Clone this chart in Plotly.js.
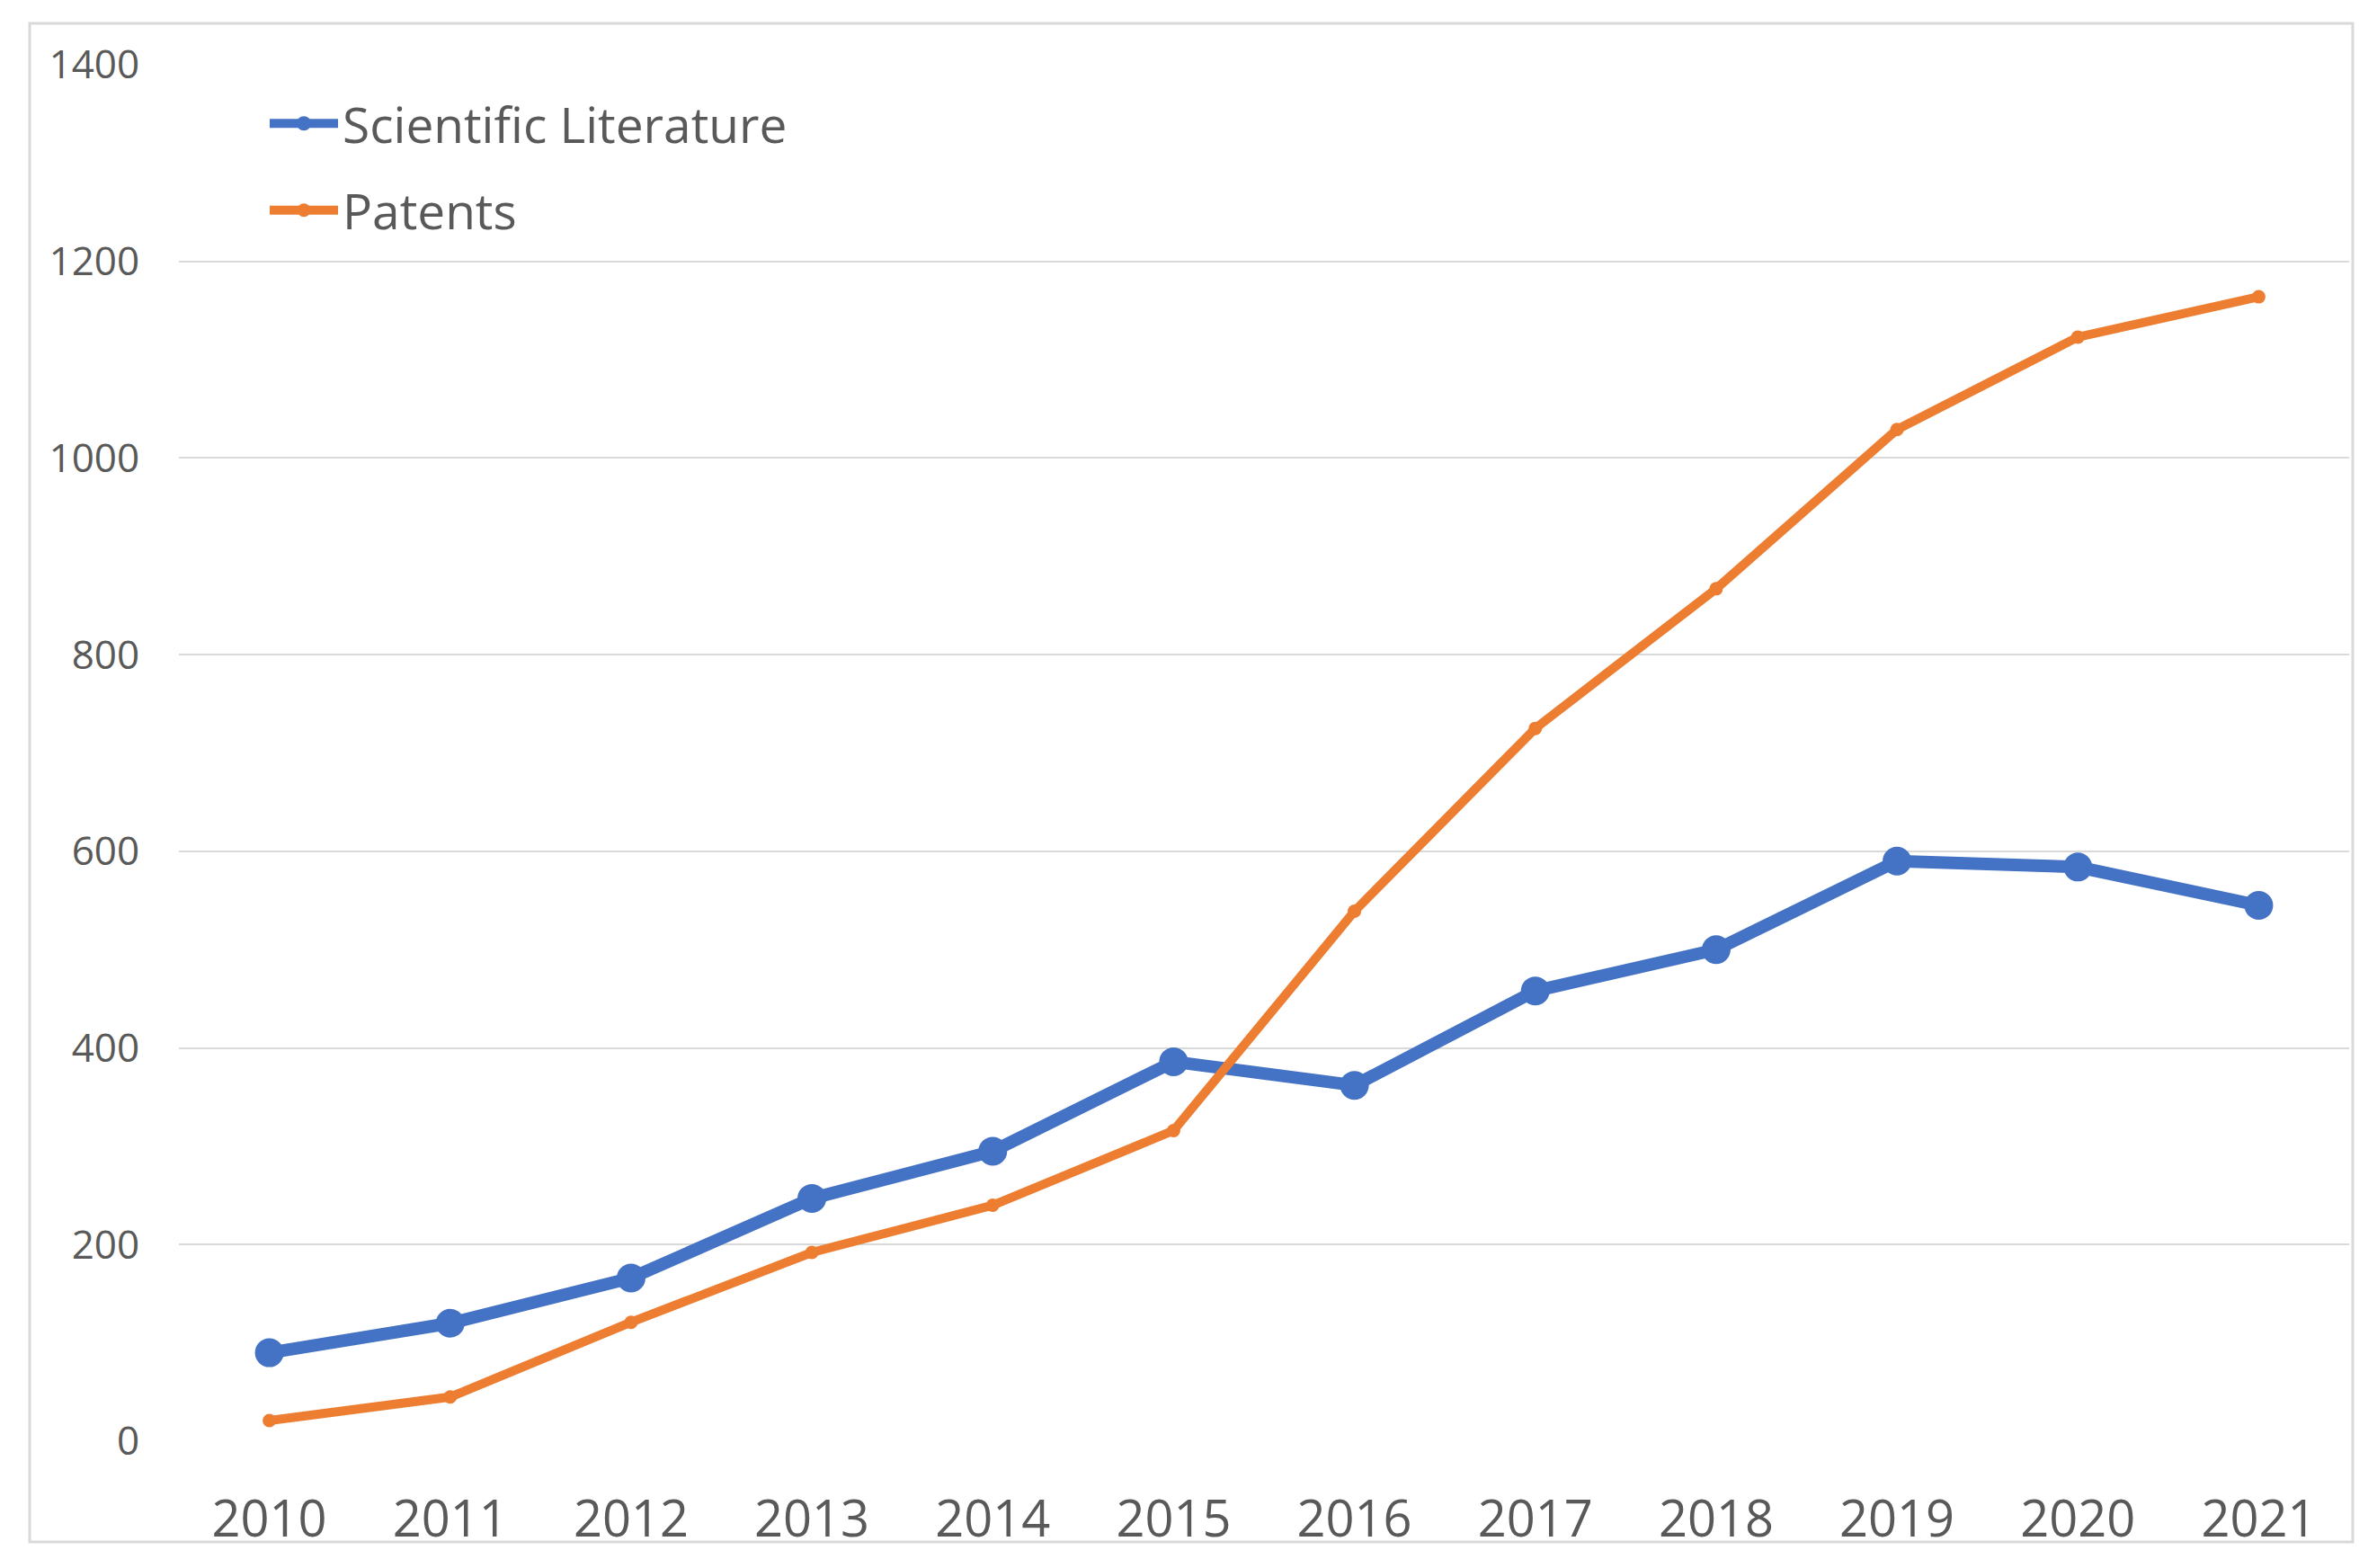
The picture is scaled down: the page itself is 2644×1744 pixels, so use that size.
<!DOCTYPE html>
<html>
<head>
<meta charset="utf-8">
<script src="https://cdn.plot.ly/plotly-3.0.1.min.js"></script>
<style>
  html, body { margin: 0; padding: 0; background: #ffffff; }
  #chart { width: 2644px; height: 1744px; }
</style>
</head>
<body>
<div id="chart"></div>
<script>
const years = ["2010","2011","2012","2013","2014","2015","2016","2017","2018","2019","2020","2021"];
const scientificLiterature = [90, 120, 166, 247, 295, 386, 362, 458, 500, 590, 584, 545];
const patents = [21, 45, 121, 192, 240, 316, 539, 725, 867, 1029, 1123, 1164];
const yTicks = [0, 200, 400, 600, 800, 1000, 1200, 1400];

const textColor = "#595959";
const gridColor = "#d9d9d9";

const traces = [
  {
    x: years, y: scientificLiterature, name: "Scientific Literature",
    type: "scatter", mode: "lines+markers", legendgroup: "a",
    line: { color: "#4472C4", width: 14 },
    marker: { color: "#4472C4", size: 32, symbol: "circle" }
  },
  {
    x: years, y: patents, name: "Patents",
    type: "scatter", mode: "lines+markers", legendgroup: "b",
    line: { color: "#ED7D31", width: 10 },
    marker: { color: "#ED7D31", size: 15, symbol: "circle" }
  }
];

const L = 199, R = 31, T = 72, B = 141, W = 2644, H = 1744;
const pw = W - L - R, ph = H - T - B;
const px = v => (v - L) / pw;
const py = v => (H - B - v) / ph;

const layout = {
  width: W, height: H,
  margin: { l: L, r: R, t: T, b: B, pad: 0 },
  paper_bgcolor: "#ffffff", plot_bgcolor: "#ffffff",
  font: { family: "Open Sans, sans-serif", color: textColor },
  showlegend: true,
  legend: {
    x: px(295), y: py(95), xanchor: "left", yanchor: "top",
    font: { size: 55, color: textColor, family: "Open Sans, sans-serif" },
    bgcolor: "rgba(0,0,0,0)", borderwidth: 0,
    traceorder: "grouped", tracegroupgap: 22, itemwidth: 76
  },
  xaxis: {
    type: "category", range: [-0.5, 11.5],
    showgrid: false, zeroline: false, showline: false,
    ticks: "outside", ticklen: 38, tickcolor: "rgba(0,0,0,0)",
    tickfont: { size: 56, color: textColor, family: "Open Sans, sans-serif" },
    fixedrange: true
  },
  yaxis: {
    range: [0, 1400], tickvals: yTicks, ticktext: yTicks.map(String),
    showgrid: true, gridcolor: gridColor, gridwidth: 2,
    zeroline: false, showline: false,
    ticks: "outside", ticklen: 34, tickcolor: "rgba(0,0,0,0)",
    tickfont: { size: 44, color: textColor, family: "Open Sans, sans-serif" },
    fixedrange: true
  },
  shapes: [
    {
      type: "rect", xref: "paper", yref: "paper", layer: "below",
      x0: px(33), x1: px(2617), y0: py(1715), y1: py(26),
      line: { color: gridColor, width: 3 }, fillcolor: "rgba(0,0,0,0)"
    }
  ]
};

Plotly.newPlot("chart", traces, layout, { displayModeBar: false, staticPlot: true });
</script>
</body>
</html>
